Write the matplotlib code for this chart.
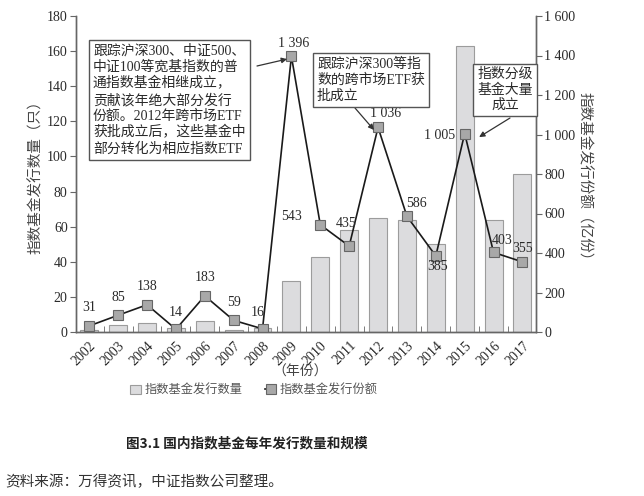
import matplotlib
matplotlib.use('Agg')
import matplotlib.pyplot as plt
import numpy as np

plt.rcParams['font.family'] = ['Liberation Serif', 'Noto Sans CJK SC', 'DejaVu Sans']
plt.rcParams['axes.unicode_minus'] = False

# 数据
years = ['2002', '2003', '2004', '2005', '2006', '2007', '2008', '2009',
         '2010', '2011', '2012', '2013', '2014', '2015', '2016', '2017']
counts = [1, 4, 5, 2, 6, 1, 2, 29, 43, 58, 65, 64, 50, 163, 64, 90]
shares = [31, 85, 138, 14, 183, 59, 16, 1396, 543, 435, 1036, 586, 385, 1005, 403, 355]
left_ticks = [0, 20, 40, 60, 80, 100, 120, 140, 160, 180]
right_ticks = [0, 200, 400, 600, 800, 1000, 1200, 1400, 1600]
right_ticklabels = ['0', '200', '400', '600', '800', '1 000', '1 200', '1 400', '1 600']
share_labels = ['31', '85', '138', '14', '183', '59', '16', '1 396', '543', '435',
                '1 036', '586', '385', '1 005', '403', '355']

# 标签相对点的偏移（像素）
label_off = [(0, 18), (0, 18), (0, 18), (0, 17), (0, 18), (0, 18), (-5, 16), (2, 13),
             (-18, 8), (-3, 23), (8, 14), (10, 13), (2, -11), (-10, -2), (9, 12), (0, 13)]
label_ha = ['center'] * 8 + ['right', 'center', 'center', 'center', 'center', 'right', 'center', 'center']

W, H = 644, 496
def fx(px):
    return px / W
def fy(py):
    return 1 - py / H

txt_color = '#2a2a2a'
spine_color = '#666666'

fig = plt.figure(figsize=(6.44, 4.96), dpi=100)
ax1 = fig.add_axes([fx(76), fy(332), fx(536) - fx(76), fy(16) - fy(332)])
ax2 = ax1.twinx()

x = np.arange(len(years))
ax1.bar(x, counts, width=0.62, color='#dcdcde', edgecolor='#9c9c9c', linewidth=0.8,
        label='指数基金发行数量')
ax2.plot(x, shares, color='#1a1a1a', linewidth=1.2, marker='s', markersize=6.5,
         markerfacecolor='#a8a8a8', markeredgecolor='#666666', markeredgewidth=0.8,
         label='指数基金发行份额')

ax1.set_xlim(-0.46, 15.47)
ax1.set_ylim(0, 180)
ax2.set_ylim(0, 1600)
ax1.set_yticks(left_ticks)
ax2.set_yticks(right_ticks)
ax2.set_yticklabels(right_ticklabels)
ax1.set_xticks(x)
ax1.set_xticklabels(years, rotation=45, ha='right', va='top', rotation_mode='anchor')
ax1.set_xticks(np.arange(0.5, 15.5, 1), minor=True)
ax1.tick_params(axis='x', which='major', length=0, pad=5, labelsize=10, labelcolor=txt_color)
ax1.tick_params(axis='x', which='minor', direction='in', length=4, color=spine_color)
ax1.tick_params(axis='y', direction='out', length=4, color=spine_color, labelsize=10,
                labelcolor=txt_color, pad=2)
ax2.tick_params(axis='y', direction='out', length=4, color=spine_color, labelsize=10,
                labelcolor=txt_color, pad=2)

for a in (ax1, ax2):
    a.spines['top'].set_visible(False)
    for s in ('left', 'right', 'bottom'):
        a.spines[s].set_color(spine_color)
        a.spines[s].set_linewidth(1.0)

ax1.set_zorder(1)
ax2.set_zorder(2)
ax1.patch.set_visible(False)

# 数据标签
for i, v in enumerate(shares):
    ax2.annotate(share_labels[i], (x[i], v), xytext=label_off[i], textcoords='offset pixels',
                 ha=label_ha[i], va='center', fontsize=10, color=txt_color)

fig.text(fx(36), fy(174), '指数基金发行数量（只）', rotation=90, ha='center', va='center',
         fontsize=10.5, color='#444444')
fig.text(fx(584), fy(180), '指数基金发行份额（亿份）', rotation=-90, ha='center', va='center',
         fontsize=10.5, color='#444444')
fig.text(fx(300), fy(372), '（年份）', ha='center', va='center', fontsize=10, color='#444444')

# 注释框
box = dict(boxstyle='square,pad=0.3', facecolor='white', edgecolor='#555555', linewidth=1.0)
arrow = dict(arrowstyle='-|>', color='#333333', linewidth=0.9, mutation_scale=8,
             shrinkA=0, shrinkB=0)

ax2.annotate('', xy=(6.85, 1382), xycoords='data', xytext=(fx(257), fy(66)),
             textcoords='figure fraction', arrowprops=arrow)
fig.text(fx(93), fy(100),
         '跟踪沪深300、中证500、\n中证100等宽基指数的普\n通指数基金相继成立，\n贡献该年绝大部分发行\n'
         '份额。2012年跨市场ETF\n获批成立后，这些基金中\n部分转化为相应指数ETF',
         ha='left', va='center', fontsize=10, linespacing=1.24, color=txt_color, bbox=box,
         zorder=5)

ax2.annotate('', xy=(9.86, 1023), xycoords='data', xytext=(fx(355), fy(108)),
             textcoords='figure fraction', arrowprops=arrow)
fig.text(fx(317), fy(80), '跟踪沪深300等指\n数的跨市场ETF获\n批成立',
         ha='left', va='center', fontsize=10, linespacing=1.24, color=txt_color, bbox=box,
         zorder=5)

ax2.annotate('', xy=(13.5, 987), xycoords='data', xytext=(fx(510), fy(118)),
             textcoords='figure fraction', arrowprops=arrow)
fig.text(fx(505), fy(90), '指数分级\n基金大量\n成立',
         ha='center', va='center', fontsize=10, linespacing=1.24, color=txt_color, bbox=box,
         zorder=5)

# 图例
h1, l1 = ax1.get_legend_handles_labels()
h2, l2 = ax2.get_legend_handles_labels()
leg = fig.legend(h1 + h2, l1 + l2, loc='center', bbox_to_anchor=(fx(254), fy(390)), ncol=2,
                 frameon=False, handlelength=0.9, handleheight=0.8,
                 columnspacing=1.8, handletextpad=0.3,
                 prop={'family': ['Noto Sans CJK SC'], 'size': 8.8})
for t in leg.get_texts():
    t.set_color('#555555')

fig.text(fx(247), fy(443), '图3.1 国内指数基金每年发行数量和规模', ha='center', va='center',
         fontsize=9.8, fontweight='bold', family=['Noto Sans CJK SC'], color='#222222')
fig.text(fx(5), fy(482), '资料来源：万得资讯，中证指数公司整理。', ha='left', va='center',
         fontsize=10.5, family=['Noto Sans CJK SC'], color='#333333')

fig.savefig('out.png', dpi=100)
